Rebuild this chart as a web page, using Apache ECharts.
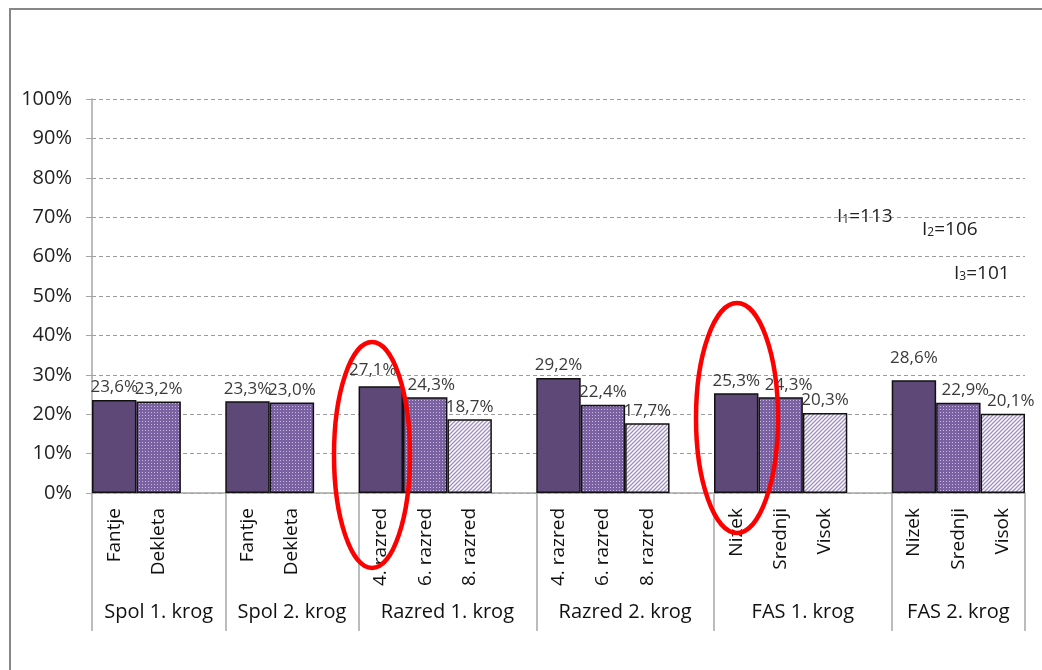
<!DOCTYPE html>
<html>
<head>
<meta charset="utf-8">
<script src="https://cdn.jsdelivr.net/npm/echarts@6/dist/echarts.min.js"></script>
<style>
  html, body { margin: 0; padding: 0; background: #fff; }
  #box { width: 1042px; height: 670px; }
</style>
</head>
<body>
<div id="box"></div>
<script>
// skupine in podkategorije
const groups = ['Spol 1. krog', 'Spol 2. krog', 'Razred 1. krog', 'Razred 2. krog', 'FAS 1. krog', 'FAS 2. krog']
const subLabels = [
  ['Fantje', 'Dekleta'],
  ['Fantje', 'Dekleta'],
  ['4. razred', '6. razred', '8. razred'],
  ['4. razred', '6. razred', '8. razred'],
  ['Nizek', 'Srednji', 'Visok'],
  ['Nizek', 'Srednji', 'Visok']
]
// vrednosti v %
const values = [
  [23.6, 23.2],
  [23.3, 23.0],
  [27.1, 24.3, 18.7],
  [29.2, 22.4, 17.7],
  [25.3, 24.3, 20.3],
  [28.6, 22.9, 20.1]
]
const yTicks = [0, 10, 20, 30, 40, 50, 60, 70, 80, 90, 100]
const notes = [['1', 113], ['2', 106], ['3', 101]]

const FONT = '"Open Sans", "Noto Sans", sans-serif'
const GRAY = '#a6a6a6'

// ročno premaknjene oznake (kot v izvirniku)
const nudge = { '2-0': [-8, -4], '2-1': [6, 0], '4-1': [8, 0], '5-0': [0, -10], '5-1': [7, 0], '5-2': [8, 0] }

// kategorije: po skupini podkategorije + prazen prostor (razen za zadnjo)
const cats = []
const slot = []
const bounds = [0]
const groupMid = []
groups.forEach((g, gi) => {
  const start = cats.length
  subLabels[gi].forEach((s, si) => { cats.push(s); slot.push([gi, si]) })
  if (gi < groups.length - 1) { cats.push(''); slot.push(null) }
  bounds.push(cats.length)
  groupMid.push((start + cats.length) / 2)
})

// vzorci
function dots() {
  const c = document.createElement('canvas')
  c.width = 3; c.height = 3
  const ctx = c.getContext('2d')
  ctx.fillStyle = '#7a61a1'
  ctx.fillRect(0, 0, 3, 3)
  ctx.fillStyle = '#c7badb'
  ctx.fillRect(1, 1, 1, 1)
  return c
}
function hatch() {
  const c = document.createElement('canvas')
  c.width = 4; c.height = 4
  const ctx = c.getContext('2d')
  ctx.fillStyle = '#ffffff'
  ctx.fillRect(0, 0, 4, 4)
  ctx.strokeStyle = '#a08cc6'
  ctx.lineWidth = 1.3
  ctx.beginPath()
  ctx.moveTo(0, 4); ctx.lineTo(4, 0)
  ctx.moveTo(-1, 1); ctx.lineTo(1, -1)
  ctx.moveTo(3, 5); ctx.lineTo(5, 3)
  ctx.stroke()
  return c
}
const fills = [
  '#5d4878',
  { image: dots(), repeat: 'repeat' },
  { image: hatch(), repeat: 'repeat' }
]

const series = [0, 1, 2].map(k => ({
  type: 'bar',
  barGap: '-100%',
  barCategoryGap: 0,
  data: slot.map(s => {
    if (!s || s[1] !== k) return '-'
    const off = nudge[s[0] + '-' + k]
    return off ? { value: values[s[0]][k], label: { offset: off } } : values[s[0]][k]
  }),
  itemStyle: { color: fills[k], borderColor: '#111', borderWidth: 1.5 },
  label: {
    show: true,
    position: 'top',
    distance: 4,
    color: '#3a3a3a',
    fontFamily: FONT,
    fontSize: 17,
    formatter: p => p.value.toFixed(1).replace('.', ',') + '%'
  }
}))

const myeCharts = echarts.init(document.getElementById('box'))
const option = {
  animation: false,
  grid: { left: 92, right: 17, top: 99, bottom: 177 },
  xAxis: [
    {
      type: 'category',
      data: cats,
      position: 'bottom',
      axisLine: { show: true, lineStyle: { color: GRAY, width: 1.5 } },
      axisTick: { show: false },
      axisLabel: {
        interval: 0,
        rotate: 90,
        margin: 15,
        color: '#111',
        fontFamily: FONT,
        fontSize: 19
      }
    },
    {
      type: 'value',
      min: 0,
      max: cats.length,
      position: 'bottom',
      axisLine: { show: false },
      splitLine: { show: false },
      axisTick: {
        show: true,
        customValues: bounds,
        length: 138,
        lineStyle: { color: GRAY, width: 1.5 }
      },
      axisLabel: {
        customValues: groupMid,
        margin: 109,
        color: '#111',
        fontFamily: FONT,
        fontSize: 20,
        formatter: v => groups[groupMid.indexOf(v)] || ''
      }
    }
  ],
  yAxis: {
    type: 'value',
    min: 0,
    max: 100,
    interval: 10,
    axisLine: { show: true, lineStyle: { color: GRAY, width: 1.5 } },
    axisTick: { show: true, length: 6, lineStyle: { color: GRAY } },
    splitLine: { show: true, lineStyle: { color: '#9c9c9c', type: [4, 3], width: 1 } },
    axisLabel: {
      margin: 20,
      color: '#222',
      fontFamily: FONT,
      fontSize: 20,
      formatter: v => yTicks.includes(v) ? v + '%' : ''
    }
  },
  graphic: [
    {
      type: 'rect', z: 100, silent: true,
      shape: { x: 10, y: 9, width: 1200, height: 900 },
      style: { fill: 'none', stroke: '#878787', lineWidth: 2 }
    },
    ...notes.map((n, i) => ({
      type: 'text', z: 100,
      x: [837, 922, 954][i],
      y: [217, 230, 274][i],
      style: {
        text: '{n|I}{s|' + n[0] + '}{n|=' + n[1] + '}',
        verticalAlign: 'middle',
        fill: '#222',
        rich: {
          n: { fontFamily: FONT, fontSize: 19, color: '#222', height: 22 },
          s: { fontFamily: FONT, fontSize: 12, color: '#222', verticalAlign: 'bottom', height: 16 }
        }
      }
    })),
    {
      type: 'ellipse', z: 110, silent: true,
      shape: { cx: 372, cy: 455, rx: 38, ry: 113 },
      style: { fill: 'none', stroke: '#ff0000', lineWidth: 4.5 }
    },
    {
      type: 'ellipse', z: 110, silent: true,
      shape: { cx: 737, cy: 418, rx: 41, ry: 115 },
      style: { fill: 'none', stroke: '#ff0000', lineWidth: 4.5 }
    }
  ],
  series: series
}
myeCharts.setOption(option)
window.onresize = function () {
  myeCharts.resize()
}
</script>
</body>
</html>
